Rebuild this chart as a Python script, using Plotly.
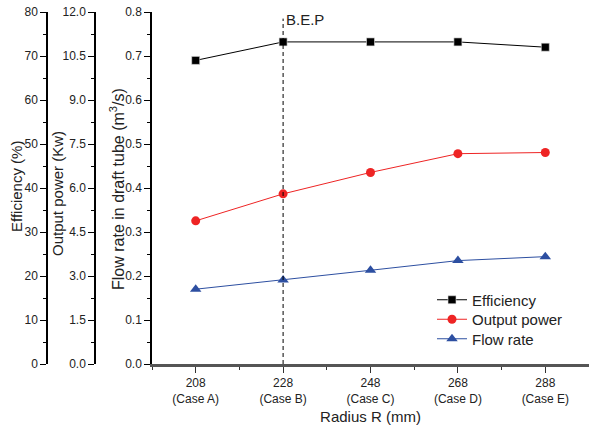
import plotly.graph_objects as go

# Runner radius cases
radius_mm = [208, 228, 248, 268, 288]
case_labels = ["(Case A)", "(Case B)", "(Case C)", "(Case D)", "(Case E)"]

# Measured performance per case
efficiency_pct = [69.0, 73.2, 73.2, 73.2, 72.0]
output_power_kw = [4.88, 5.80, 6.53, 7.17, 7.21]
flow_rate_m3s = [0.170, 0.191, 0.213, 0.235, 0.244]

# Best efficiency point case
bep_radius = 228

FONT = "Liberation Sans, Arial, sans-serif"
TXT = "#222222"
W, H = 589, 427
M_T, M_B = 12, 63
PLOT_H = H - M_T - M_B
PLOT_LEFT_PX = 152
POWER_AXIS_PX = 95
EFF_AXIS_PX = 47


def px_x(px):
    return px / W


def px_y(px):
    # paper y for a pixel row measured from the top of the page
    return (H - M_B - px) / PLOT_H


tick_text = [f"{r}<br>{c}" for r, c in zip(radius_mm, case_labels)]

fig = go.Figure()

fig.add_trace(go.Scatter(
    x=radius_mm, y=efficiency_pct, name="Efficiency", yaxis="y3",
    mode="lines+markers", legend="legend",
    line=dict(color="black", width=1),
    marker=dict(symbol="square", size=8, color="black",
                line=dict(color="#dddddd", width=0.6)),
))
fig.add_trace(go.Scatter(
    x=radius_mm, y=output_power_kw, name="Output power", yaxis="y2",
    mode="lines+markers", legend="legend2",
    line=dict(color="#ee2424", width=1),
    marker=dict(symbol="circle", size=9, color="#ee2424"),
))
fig.add_trace(go.Scatter(
    x=radius_mm, y=flow_rate_m3s, name="Flow rate", yaxis="y",
    mode="lines+markers", legend="legend3",
    line=dict(color="#2d4fa1", width=1),
    marker=dict(symbol="triangle-up", size=10, color="#2d4fa1"),
))

# Best efficiency point marker line
fig.add_shape(
    type="line", xref="x", yref="y",
    x0=bep_radius, x1=bep_radius, y0=0, y1=0.785,
    line=dict(color="black", width=1, dash="4px,3px"),
)
fig.add_annotation(
    x=bep_radius, y=0.783, xref="x", yref="y", text="B.E.P",
    showarrow=False, xanchor="left", yanchor="middle", xshift=1,
    font=dict(family=FONT, size=15, color=TXT),
)

# Axis titles for the three stacked y scales
for text, xc, yc, size in [
    ("Efficiency (%)", 16, 187, 15),
    ("Output power (Kw)", 57, 194, 15),
    ("Flow rate in draft tube (m<sup>3</sup>/s)", 117, 189, 16),
]:
    fig.add_annotation(
        x=px_x(xc), y=px_y(yc), xref="paper", yref="paper", text=text,
        textangle=-90, showarrow=False, xanchor="center", yanchor="middle",
        font=dict(family=FONT, size=size, color=TXT),
    )

tick_font = dict(family=FONT, size=12, color=TXT)
title_font = dict(family=FONT, size=15, color=TXT)

common_y = dict(
    showline=True, linecolor="black", linewidth=1.5,
    ticks="outside", ticklen=6, tickwidth=1.2, tickcolor="black",
    showgrid=False, zeroline=False, tickfont=tick_font,
)

legend_common = dict(
    xanchor="left", yanchor="middle",
    bgcolor="rgba(0,0,0,0)", borderwidth=0,
    font=dict(family=FONT, size=15, color=TXT),
    itemwidth=30,
)
legend_x = px_x(472 - 40)

fig.update_layout(
    width=W, height=H,
    margin=dict(l=0, r=0, t=M_T, b=M_B),
    paper_bgcolor="white", plot_bgcolor="white",
    font=dict(family=FONT, color=TXT),
    xaxis=dict(
        domain=[px_x(PLOT_LEFT_PX), 1],
        range=[198, 298],
        tickvals=radius_mm, ticktext=tick_text,
        ticks="outside", ticklen=6, tickwidth=1.2, tickcolor="#333333",
        minor=dict(ticks="outside", ticklen=3, tickwidth=1.2,
                   tickcolor="#333333", dtick=20, tick0=198),
        showline=True, linecolor="#555555", linewidth=2.5,
        showgrid=False, zeroline=False, tickfont=tick_font,
        title=dict(text="Radius R (mm)", font=title_font, standoff=7),
        anchor="y",
    ),
    yaxis=dict(
        **common_y,
        range=[0, 0.8], dtick=0.1, tickformat=".1f",
        minor=dict(ticks="outside", ticklen=3, dtick=0.05, tickcolor="black"),
        anchor="x",
    ),
    yaxis2=dict(
        **common_y,
        range=[0, 12], dtick=1.5, tickformat=".1f",
        minor=dict(ticks="outside", ticklen=3, dtick=0.75, tickcolor="black"),
        overlaying="y", anchor="free", position=px_x(POWER_AXIS_PX), side="left",
    ),
    yaxis3=dict(
        **common_y,
        range=[0, 80], dtick=10,
        minor=dict(ticks="outside", ticklen=3, dtick=5, tickcolor="black"),
        overlaying="y", anchor="free", position=px_x(EFF_AXIS_PX), side="left",
    ),
    legend=dict(**legend_common, x=legend_x, y=px_y(300)),
    legend2=dict(**legend_common, x=legend_x, y=px_y(319.5)),
    legend3=dict(**legend_common, x=legend_x, y=px_y(339)),
    showlegend=True,
)

fig.write_html("out.html")
